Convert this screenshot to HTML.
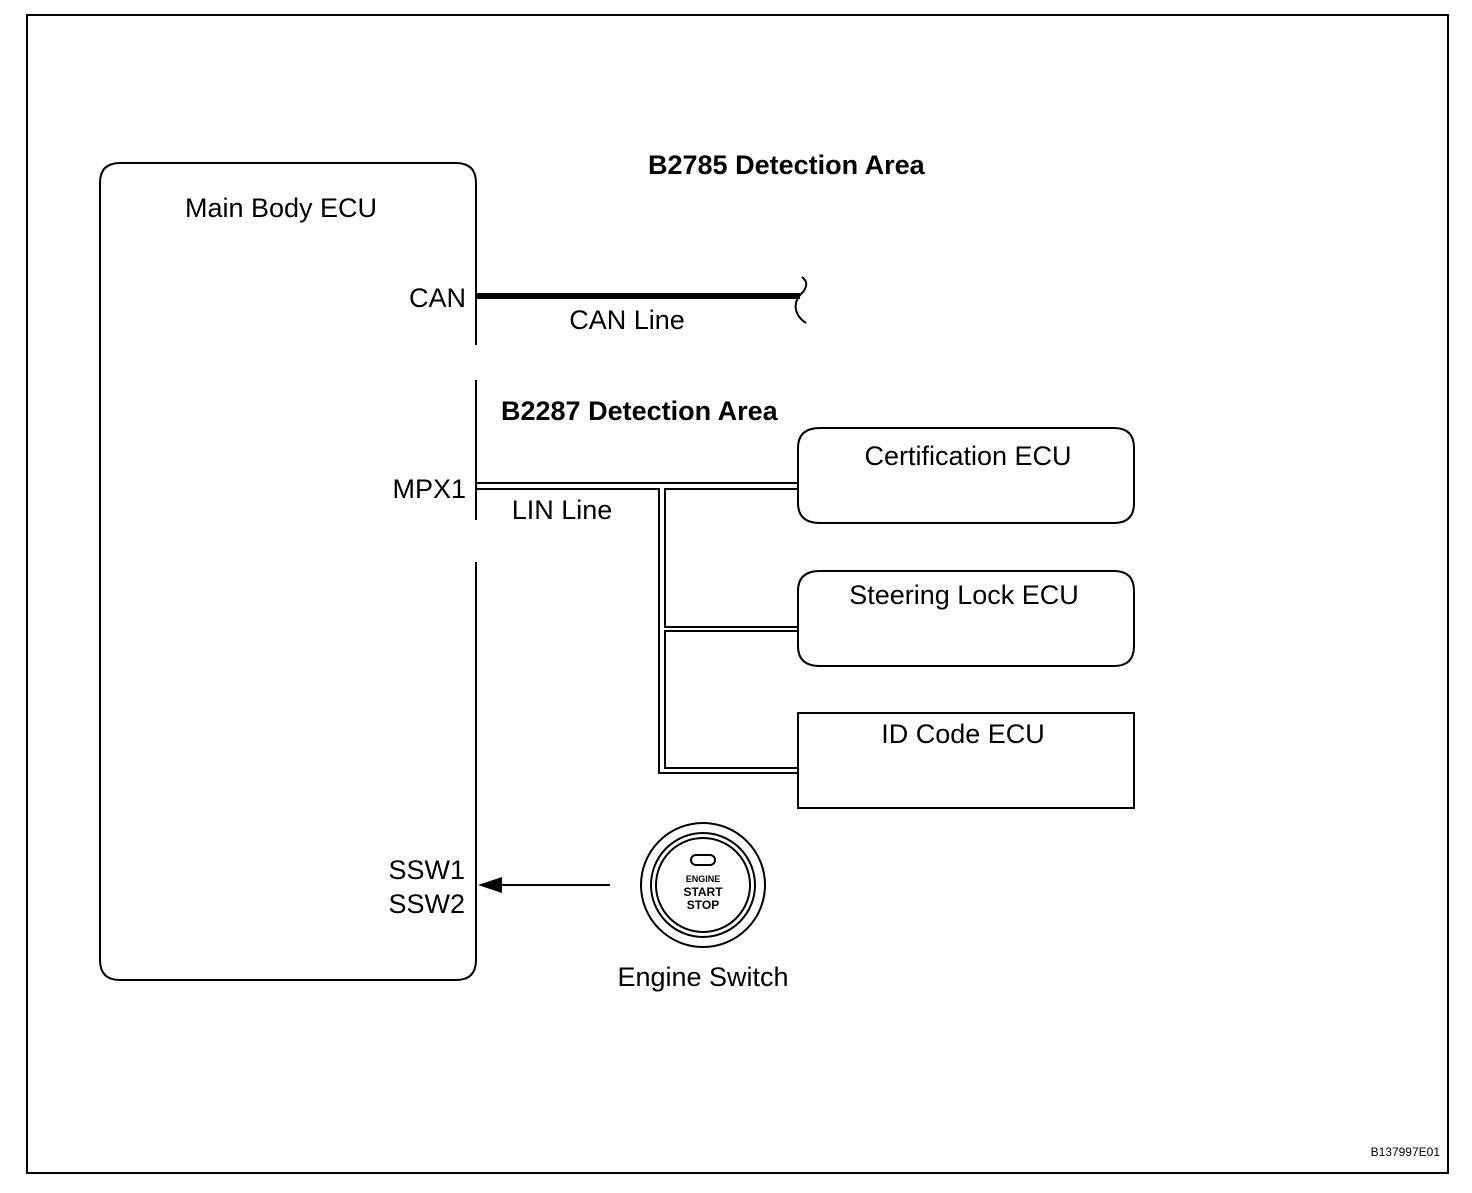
<!DOCTYPE html><html><head><style>body{margin:0;background:#fff}svg text{font-family:"Liberation Sans",Arial,sans-serif}</style></head><body>
<svg width="1472" height="1188" xmlns="http://www.w3.org/2000/svg">
<rect x="27" y="15" width="1421" height="1158" fill="none" stroke="#000" stroke-width="2"/>
<path d="M476 345 V183 Q476 163 456 163 H120 Q100 163 100 183 V960 Q100 980 120 980 H456 Q476 980 476 960 V562 M476 380 V520" fill="none" stroke="#000" stroke-width="2"/>
<text x="281" y="217" font-size="27" text-anchor="middle">Main Body ECU</text>
<text x="648" y="174" font-size="27" font-weight="bold">B2785 Detection Area</text>
<text x="466" y="307" font-size="27" text-anchor="end">CAN</text>
<line x1="476" y1="296" x2="800" y2="296" stroke="#000" stroke-width="6"/>
<path d="M802 277 Q810 283 803 292 Q794 300 796 310 Q798 318 806 323" fill="none" stroke="#000" stroke-width="2"/>
<text x="627" y="329" font-size="27" text-anchor="middle">CAN Line</text>
<text x="501" y="420" font-size="27" font-weight="bold">B2287 Detection Area</text>
<text x="466" y="498" font-size="27" text-anchor="end">MPX1</text>
<text x="562" y="519" font-size="27" text-anchor="middle">LIN Line</text>
<g fill="none" stroke="#000" stroke-width="2">
<path d="M476 483 H798"/>
<path d="M476 489 H659 V773 H798"/>
<path d="M798 489 H665 V627 H798 M798 631 H665 V768 H798"/>
<path d="M820 428 H1114 Q1134 428 1134 448 V503 Q1134 523 1114 523 H820 Q798 523 798 503 V448 Q798 428 820 428Z"/>
<path d="M820 571 H1114 Q1134 571 1134 591 V646 Q1134 666 1114 666 H820 Q798 666 798 646 V591 Q798 571 820 571Z"/>
<rect x="798" y="713" width="336" height="95"/>
<line x1="610" y1="885" x2="498" y2="885"/>
<circle cx="703" cy="885" r="62"/>
<circle cx="703" cy="885" r="52"/>
<circle cx="703" cy="885" r="47"/>
<rect x="691" y="855" width="24" height="10" rx="5"/>
</g>
<polygon points="478,885 502,877 502,893" fill="#000"/>
<text x="968" y="465" font-size="27" text-anchor="middle">Certification ECU</text>
<text x="964" y="604" font-size="27" text-anchor="middle">Steering Lock ECU</text>
<text x="963" y="743" font-size="27" text-anchor="middle">ID Code ECU</text>
<text x="465" y="879" font-size="27" text-anchor="end">SSW1</text>
<text x="465" y="913" font-size="27" text-anchor="end">SSW2</text>
<text x="703" y="882" font-size="9" font-weight="bold" text-anchor="middle">ENGINE</text>
<text x="703" y="896" font-size="12" font-weight="bold" text-anchor="middle">START</text>
<text x="703" y="909" font-size="12" font-weight="bold" text-anchor="middle">STOP</text>
<text x="703" y="986" font-size="27" text-anchor="middle">Engine Switch</text>
<text x="1440" y="1156" font-size="12" text-anchor="end">B137997E01</text>
</svg></body></html>
